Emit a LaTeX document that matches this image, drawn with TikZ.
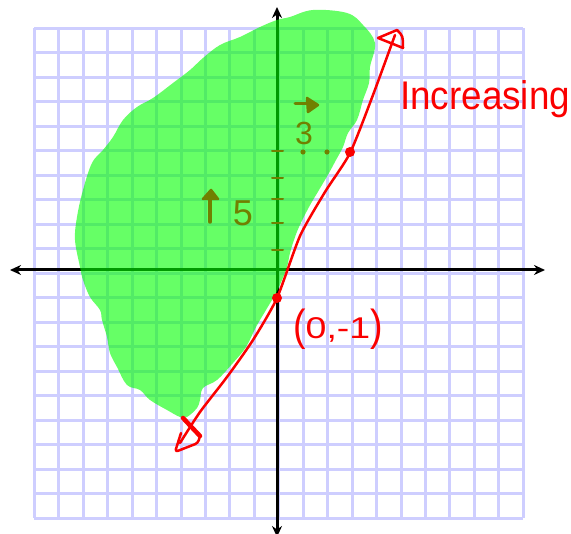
\documentclass[tikz,border=0pt]{standalone}
\usepackage{fontspec}
\newfontfamily\handfont{Liberation Sans}
\usetikzlibrary{arrows.meta}
\definecolor{gridc}{RGB}{206,206,255}
\definecolor{blobc}{RGB}{0,255,0}
\definecolor{olivec}{RGB}{112,128,0}
\definecolor{inkred}{RGB}{250,0,0}
\tikzset{
  gridline/.style={gridc, line width=3pt},
  axisline/.style={black, line width=3pt, {Stealth[length=11pt,width=10pt]}-{Stealth[length=11pt,width=10pt]}},
  redink/.style={inkred, line width=2.5pt, line cap=round, line join=round},
  oliveink/.style={olivec, line width=2.5pt, line cap=round, line join=round},
  redlabel/.style={inkred, inner sep=0pt},
  olivelabel/.style={olivec, inner sep=0pt}
}
\begin{document}
\begin{tikzpicture}[x=1pt,y=-1pt]
\useasboundingbox (0,0) rectangle (571,534);
% grid
\foreach \i in {0,...,20}{
  \draw[gridline] ({34.3+24.45*\i},28.3) -- ({34.3+24.45*\i},518.3);
  \draw[gridline] (34.3,{28.3+24.5*\i}) -- (523.3,{28.3+24.5*\i});
}
% axes
\coordinate (xl) at (10,270);
\coordinate (xr) at (545,270);
\coordinate (yt) at (277,7);
\coordinate (yb) at (277,537);
\draw[axisline] (xl) -- (xr);
\draw[axisline] (yb) -- (yt);
% green shaded blob
\fill[blobc, opacity=0.6] plot[smooth cycle, tension=0.6] coordinates {
(290,17) (313,10) (347,13) (363,25) (375,43) (370,67) (369,83) (363,100)
(357,120) (348,133) (343,147) (336,160) (329,173) (319,190) (309,207)
(299,227) (294,240) (290,253) (287,267) (282,280) (276,293) (266,310)
(256,327) (246,347) (233,363) (217,380) (203,388) (200,400) (197,408)
(187,417) (180,417) (167,410) (150,400) (140,390) (127,385) (117,367)
(110,353) (107,337) (102,320) (100,310) (90,297) (83,280) (80,267)
(75,240) (77,217) (83,190) (92,163) (103,150) (113,137) (123,120)
(137,107) (153,98) (173,83) (190,70) (203,58) (220,45) (240,37)
(260,27) (277,20)};
% olive annotations
\foreach \yy in {151,178,199,223,250}{
  \draw[oliveink, line width=2pt] (272,\yy) -- (283,\yy);
}
\fill[olivec] (303,152) circle (2.6pt);
\fill[olivec] (327,152) circle (2.6pt);
\draw[oliveink, line width=3pt] (295,104) -- (310,104);
\filldraw[oliveink] (307,98) -- (318,105) -- (308,112) -- cycle;
\node[olivelabel, font=\handfont\fontsize{32}{34}\selectfont] (three) at (304,133) {3};
\draw[oliveink, line width=3.5pt] (210,222) -- (210,198);
\filldraw[oliveink] (203,199) -- (211,190) -- (218,199) -- cycle;
\node[olivelabel, font=\handfont\fontsize{36}{38}\selectfont] (five) at (243,213) {5};
% red line
\draw[redink] plot[smooth, tension=0.4] coordinates {
(180,443) (200,412) (227,377) (253,340) (277,298) (300,236) (325,192)
(350,153) (373,95) (395,35)};
\draw[redink] (378,38) -- (397,30) .. controls (403,36) .. (403,48) -- cycle;
\draw[redink, line width=4.5pt] (183,418) -- (200,436);
\draw[redink, rounded corners=3pt] (200,436) -- (198,443) -- (175,452) -- (181,433);
\fill[inkred] (277,298) circle (5pt);
\fill[inkred] (350,152) circle (5pt);
% labels
\node[redlabel, anchor=base west, font=\handfont\fontsize{40}{42}\selectfont] (inc) at (400,110) {\scalebox{0.92}[1]{Increasing}};
\node[redlabel, anchor=base west, font=\handfont\fontsize{30}{32}\selectfont] (pt) at (293,339) {\scalebox{1.25}[1]{\raisebox{-2pt}{\scalebox{1}[1.45]{(}}0,-1\raisebox{-2pt}{\scalebox{1}[1.45]{)}}}};
\end{tikzpicture}
\end{document}
